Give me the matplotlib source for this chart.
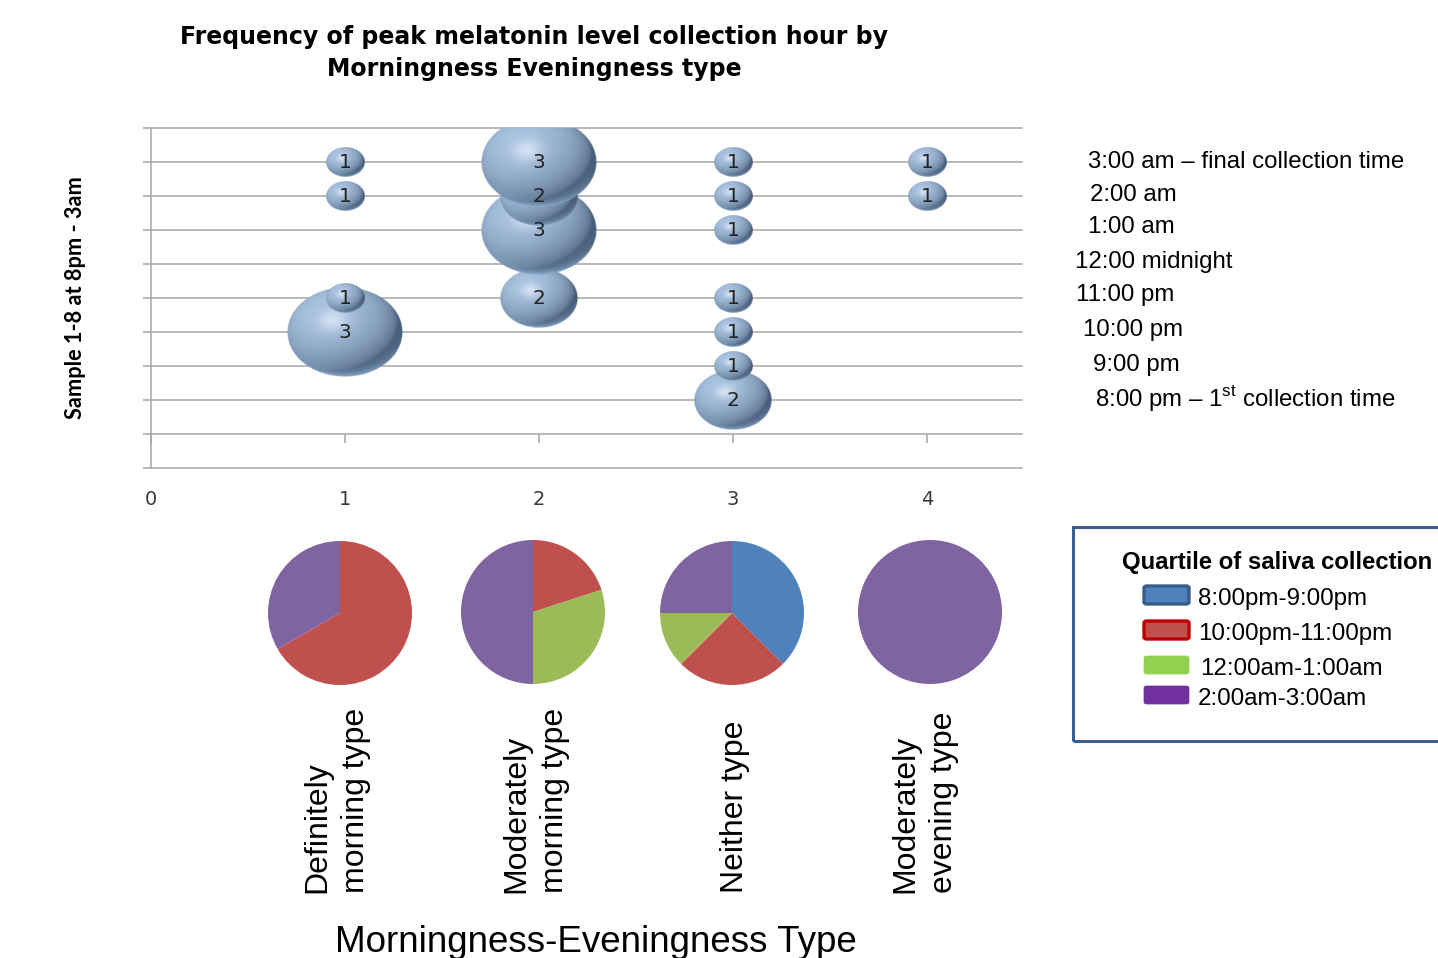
import numpy as np
import matplotlib
matplotlib.use("Agg")
import matplotlib.pyplot as plt
from matplotlib.patches import Rectangle, FancyBboxPatch

plt.rcParams['font.family'] = ['Liberation Sans', 'DejaVu Sans']
plt.rcParams['mathtext.fontset'] = 'custom'
plt.rcParams['mathtext.rm'] = 'Liberation Sans'

# bubble data: type group (x), sample number (y), count of peaks
group_x = [1, 1, 1, 1, 2, 2, 2, 2, 3, 3, 3, 3, 3, 3, 3, 4, 4]
sample_y = [8, 7, 4, 3, 8, 7, 6, 4, 8, 7, 6, 4, 3, 2, 1, 8, 7]
counts = [1, 1, 1, 3, 3, 2, 3, 2, 1, 1, 1, 1, 1, 1, 2, 1, 1]

hour_labels = ["3:00 am \u2013 final collection time", "2:00 am", "1:00 am",
               "12:00 midnight", "11:00 pm", "10:00 pm", "9:00 pm",
               "8:00 pm \u2013 1$^{\\mathrm{st}}$ collection time"]

type_labels = ["Definitely\nmorning type", "Moderately\nmorning type",
               "Neither type", "Moderately\nevening type"]

quartile_labels = ["8:00pm-9:00pm", "10:00pm-11:00pm", "12:00am-1:00am", "2:00am-3:00am"]
pie_colors = ['#4F81BD', '#C0504D', '#9BBB59', '#8064A2']
legend_fill = ['#4F81BD', '#C0504D', '#92D050', '#7030A0']
legend_edge = ['#385D8A', '#C00000', None, None]

W, H = 1438, 958
fig = plt.figure(figsize=(W / 100, H / 100), dpi=100)


def fx(px):
    return px / W


def fy(py):
    return 1 - py / H


grid_col = '#a6a6a6'

ax = fig.add_axes([fx(151), fy(468), fx(1022 - 151), (468 - 128) / H])
ax.set_xlim(0, 4.49)
ax.set_ylim(-1, 9)
ax.set_yticks(np.arange(-1, 10))
ax.yaxis.grid(True, color=grid_col, lw=1.1)
for gl in ax.get_ygridlines():
    gl.set_clip_on(False)
ax.tick_params(axis='y', length=6, width=1.1, color=grid_col, labelleft=False)
for s in ['top', 'right']:
    ax.spines[s].set_visible(False)
ax.spines['left'].set_color(grid_col)
ax.spines['left'].set_linewidth(1.1)
ax.spines['bottom'].set_position(('data', 0))
ax.spines['bottom'].set_visible(False)
ax.set_xticks([0, 1, 2, 3, 4], ['0', '1', '2', '3', '4'], fontfamily='DejaVu Sans', fontsize=14)
ax.tick_params(axis='x', length=6.5, width=1.1, color=grid_col, pad=34, labelcolor='#3a3a3a')
ax.set_axisbelow(True)


def bubble_image(res=240):
    u = np.linspace(-1, 1, res)
    U, V = np.meshgrid(u, u)
    r2 = U ** 2 + V ** 2
    r = np.sqrt(r2)
    nz = np.sqrt(np.clip(1 - r2, 0, 1))
    L = np.array([-0.4, 0.5, 0.77])
    L = L / np.linalg.norm(L)
    diff = np.clip(U * L[0] + V * L[1] + nz * L[2], 0, 1)
    Hv = L + np.array([0, 0, 1.0])
    Hv = Hv / np.linalg.norm(Hv)
    spec = np.clip(U * Hv[0] + V * Hv[1] + nz * Hv[2], 0, 1) ** 30
    dark = np.array([0.28, 0.37, 0.48])
    base = np.array([0.66, 0.76, 0.88])
    t = diff[..., None] ** 0.6
    rgb = dark + (base - dark) * t
    rgb = rgb + (np.array([0.95, 0.97, 1.0]) - rgb) * (0.6 * spec)[..., None]
    rim = (np.clip(-V, 0, 1) ** 1.5 * r ** 6 * 0.8)[..., None]
    rgb = rgb + (np.array([0.64, 0.76, 0.90]) - rgb) * rim
    alpha = np.clip((1 - r) * res / 3.0, 0, 1)
    return np.dstack([np.clip(rgb, 0, 1), alpha])


img = bubble_image()
order = sorted(range(len(counts)), key=lambda i: (group_x[i], sample_y[i]))
for z, i in enumerate(order):
    x, y, n = group_x[i], sample_y[i], counts[i]
    w, h = 0.1985 * n, 0.88 * n
    ax.imshow(img, extent=[x - w / 2, x + w / 2, y - h / 2, y + h / 2], origin='lower',
              aspect='auto', interpolation='bilinear', zorder=2 + z * 0.01)
    ax.text(x, y, str(n), ha='center', va='center', fontsize=14.5, fontfamily='DejaVu Sans',
            color='#222222', zorder=10)
ax.set_xlim(0, 4.49)
ax.set_ylim(-1, 9)

fig.text(fx(76), fy(298), 'Sample 1-8 at 8pm - 3am', rotation=90, ha='center', va='center',
         fontsize=15.7, fontweight='bold', fontfamily='Lato')
fig.text(fx(534), fy(53), 'Frequency of peak melatonin level collection hour by\nMorningness Eveningness type',
         ha='center', va='center', fontsize=17, fontweight='bold', fontfamily='DejaVu Sans',
         linespacing=1.38)

# hour labels on the right
label_x = [1088, 1090, 1088, 1075, 1076, 1083, 1093, 1095]
label_y = [162, 195, 227, 262, 295, 330, 365, 398]
for txt, lx, ly in zip(hour_labels, label_x, label_y):
    fig.text(fx(lx), fy(ly), txt, ha='left', va='center', fontsize=17.3)

# pies per type
pie_cx = [340, 533, 732, 930]
pie_cy = [613, 612, 613, 612]
pie_r = 72
for k, g in enumerate([1, 2, 3, 4]):
    vals = [0, 0, 0, 0]
    for x, y, n in zip(group_x, sample_y, counts):
        if x == g:
            vals[(y - 1) // 2] += n
    pax = fig.add_axes([fx(pie_cx[k] - pie_r), fy(pie_cy[k] + pie_r), 2 * pie_r / W, 2 * pie_r / H])
    pax.pie(vals, colors=pie_colors, startangle=90, counterclock=False,
            wedgeprops=dict(linewidth=0))
    pax.set_xlim(-1, 1)
    pax.set_ylim(-1, 1)
    pax.axis('off')

type_lx = [337, 536, 735, 925]
for txt, lx in zip(type_labels, type_lx):
    fig.text(fx(lx), fy(893), txt, rotation=90, ha='center', va='bottom',
             multialignment='left', fontsize=23, linespacing=1.37)

fig.text(fx(596), fy(952), 'Morningness-Eveningness Type', ha='center', va='baseline', fontsize=26.5)

# legend box
fig.add_artist(Rectangle((fx(1073), fy(741)), (1450 - 1073) / W, (741 - 527) / H,
                         transform=fig.transFigure, fill=False, ec='#3b5f93', lw=2.2))
fig.text(fx(1122), fy(562), 'Quartile of saliva collection', ha='left', va='center',
         fontsize=17.2, fontweight='bold')
sw_y = [595, 630, 665, 695]
txt_x = [1198, 1198, 1200, 1198]
txt_y = [599, 634, 669, 699]
for q in range(4):
    ec = legend_edge[q]
    patch = FancyBboxPatch((fx(1144), fy(sw_y[q] + 9)), 45 / W, 18 / H,
                           boxstyle='round,pad=0,rounding_size=0.002',
                           transform=fig.transFigure, fc=legend_fill[q],
                           ec=ec if ec else legend_fill[q], lw=2.4 if ec else 0.5)
    fig.add_artist(patch)
    fig.text(fx(txt_x[q]), fy(txt_y[q]), quartile_labels[q], ha='left', va='center', fontsize=17.4)

fig.savefig('out.png', dpi=100)
